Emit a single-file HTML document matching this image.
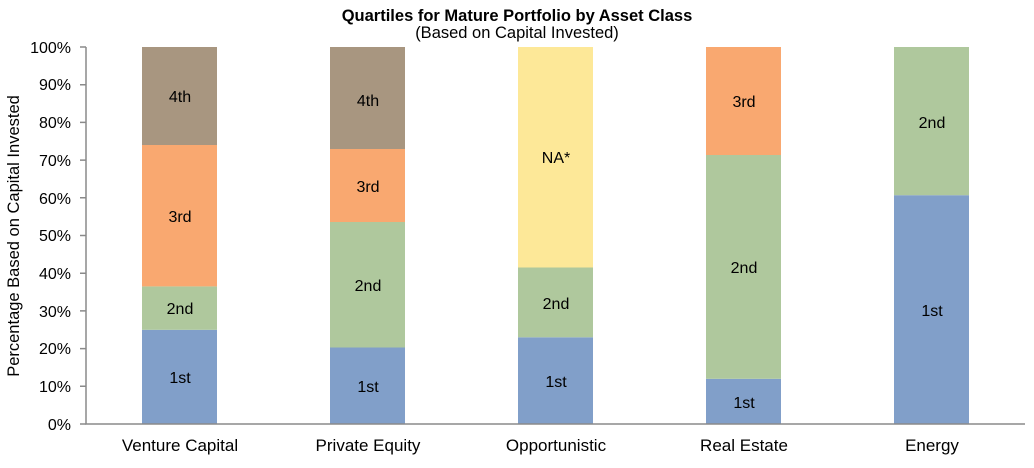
<!DOCTYPE html><html><head><style>body{margin:0;background:#fff}</style></head><body>
<svg width="1034" height="463" xmlns="http://www.w3.org/2000/svg" font-family="Liberation Sans, Arial, sans-serif">
<text x="517" y="21" text-anchor="middle" font-size="16.5" font-weight="bold" fill="#000">Quartiles for Mature Portfolio by Asset Class</text>
<text x="517" y="38" text-anchor="middle" font-size="16.5" fill="#000">(Based on Capital Invested)</text>
<text transform="translate(19,236) rotate(-90)" text-anchor="middle" font-size="16.5" fill="#000">Percentage Based on Capital Invested</text>
<g font-size="16" fill="#000" text-anchor="end">
<text x="71" y="430">0%</text><text x="71" y="392">10%</text><text x="71" y="354">20%</text><text x="71" y="317">30%</text><text x="71" y="279">40%</text><text x="71" y="241">50%</text><text x="71" y="204">60%</text><text x="71" y="166">70%</text><text x="71" y="128">80%</text><text x="71" y="90">90%</text><text x="71" y="53">100%</text>
</g>
<rect x="142" y="329.8" width="75" height="94.2" fill="#819FC9"/>
<rect x="142" y="286.4" width="75" height="43.4" fill="#AFC89D"/>
<rect x="142" y="145" width="75" height="141.4" fill="#F9A870"/>
<rect x="142" y="47" width="75" height="98" fill="#A89680"/>
<rect x="330" y="347.5" width="75" height="76.5" fill="#819FC9"/>
<rect x="330" y="222" width="75" height="125.5" fill="#AFC89D"/>
<rect x="330" y="149" width="75" height="73" fill="#F9A870"/>
<rect x="330" y="47" width="75" height="102" fill="#A89680"/>
<rect x="518" y="337.3" width="75" height="86.7" fill="#819FC9"/>
<rect x="518" y="267.5" width="75" height="69.8" fill="#AFC89D"/>
<rect x="518" y="47" width="75" height="220.5" fill="#FDE898"/>
<rect x="706" y="378.8" width="75" height="45.2" fill="#819FC9"/>
<rect x="706" y="155" width="75" height="223.8" fill="#AFC89D"/>
<rect x="706" y="47" width="75" height="108" fill="#F9A870"/>
<rect x="894" y="195.2" width="75" height="228.8" fill="#819FC9"/>
<rect x="894" y="47" width="75" height="148.2" fill="#AFC89D"/>
<g stroke="#8a8a8a" stroke-width="1.5" fill="none">
<path d="M86 47V424H1025"/>
<path d="M80 424H86M80 386.3H86M80 348.6H86M80 310.9H86M80 273.2H86M80 235.5H86M80 197.8H86M80 160.1H86M80 122.4H86M80 84.7H86M80 47H86"/>
</g>
<g font-size="16" fill="#000" text-anchor="middle">
<text x="180" y="383">1st</text><text x="180" y="314">2nd</text><text x="180" y="222">3rd</text><text x="180" y="102">4th</text>
<text x="368" y="392">1st</text><text x="368" y="291">2nd</text><text x="368" y="192">3rd</text><text x="368" y="106">4th</text>
<text x="556" y="387">1st</text><text x="556" y="309">2nd</text><text x="556" y="163">NA*</text>
<text x="744" y="408">1st</text><text x="744" y="273">2nd</text><text x="744" y="107">3rd</text>
<text x="932" y="316">1st</text><text x="932" y="128">2nd</text>
</g>
<g font-size="17" fill="#000" text-anchor="middle">
<text x="180" y="451">Venture Capital</text><text x="368" y="451">Private Equity</text><text x="556" y="451">Opportunistic</text><text x="744" y="451">Real Estate</text><text x="932" y="451">Energy</text>
</g>
</svg></body></html>
